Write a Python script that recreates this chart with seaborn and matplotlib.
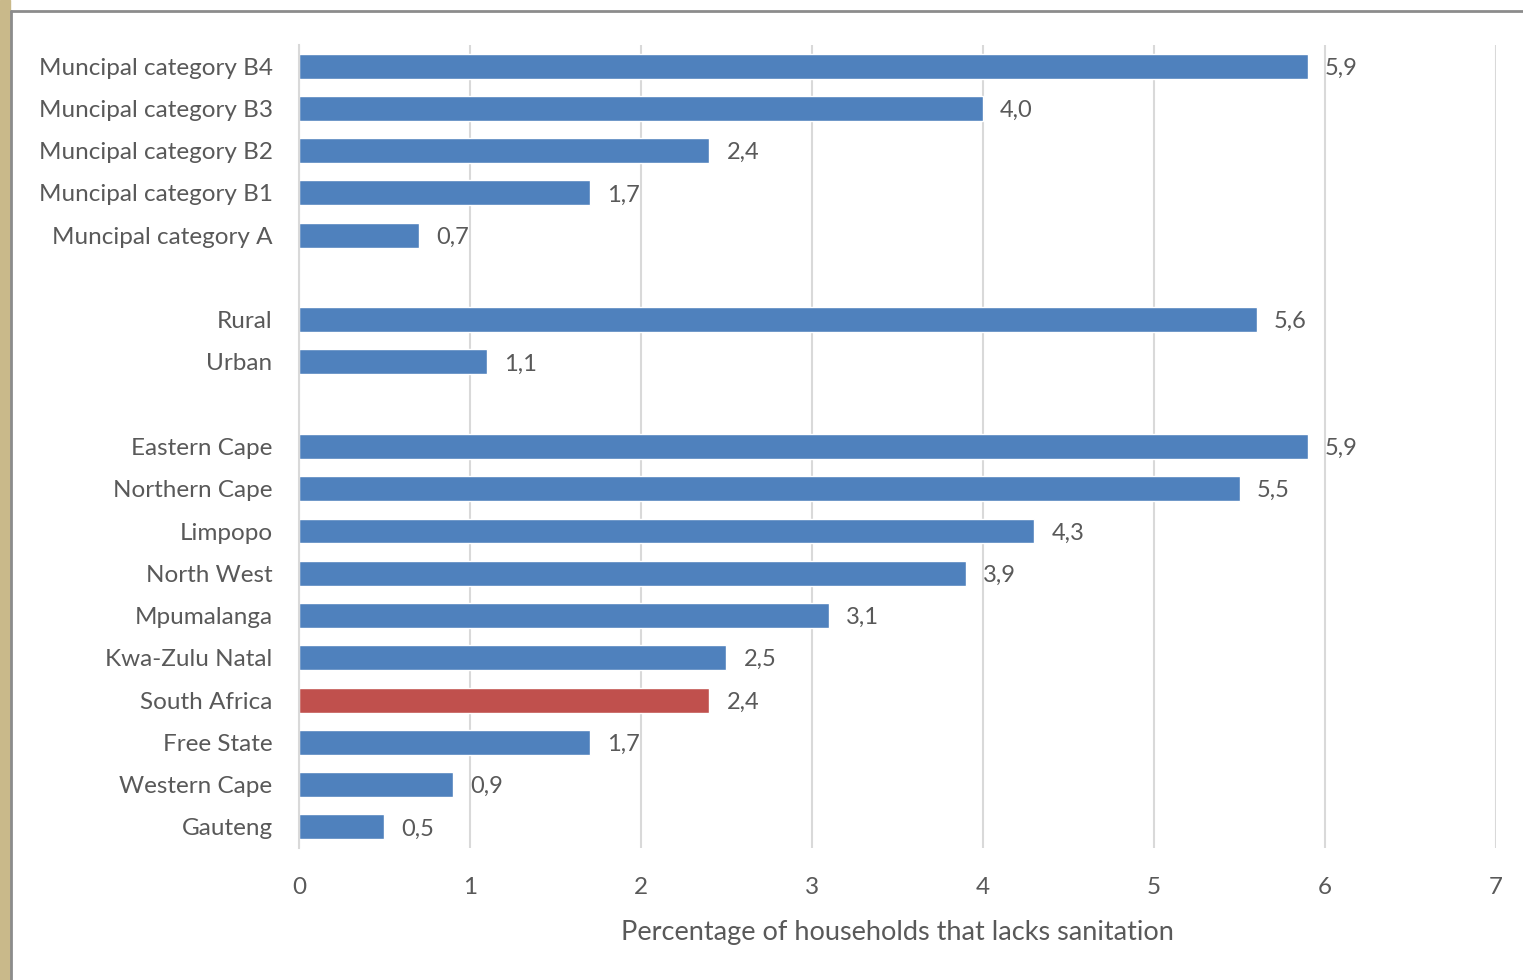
import pandas as pd
import matplotlib.pyplot as plt
import seaborn as sns
from matplotlib.patches import Rectangle
from matplotlib.lines import Line2D

# Datos
municipal = ['Muncipal category B4', 'Muncipal category B3', 'Muncipal category B2',
             'Muncipal category B1', 'Muncipal category A']
municipal_vals = [5.9, 4.0, 2.4, 1.7, 0.7]

settlement = ['Rural', 'Urban']
settlement_vals = [5.6, 1.1]

provinces = ['Eastern Cape', 'Northern Cape', 'Limpopo', 'North West', 'Mpumalanga',
             'Kwa-Zulu Natal', 'South Africa', 'Free State', 'Western Cape', 'Gauteng']
province_vals = [5.9, 5.5, 4.3, 3.9, 3.1, 2.5, 2.4, 1.7, 0.9, 0.5]

highlight = 'South Africa'

df = pd.DataFrame({
    'Grupo': municipal + settlement + provinces,
    'Valor': municipal_vals + settlement_vals + province_vals,
})
# huecos entre bloques
orden = municipal + [' '] + settlement + ['  '] + provinces

blue = '#4F81BD'
red = '#C0504D'
gris = '#595959'
colores = {g: (red if g == highlight else blue) for g in df['Grupo']}

sns.set_style('white')
plt.rcParams['font.family'] = ['Lato', 'DejaVu Sans']

fig = plt.figure(figsize=(15.23, 9.8), dpi=100)
ax = fig.add_axes([0.1963, 0.1347, 0.9823 - 0.1963, 0.9541 - 0.1347])

sns.barplot(data=df, x='Valor', y='Grupo', hue='Grupo', palette=colores, order=orden,
            orient='h', width=0.59, legend=False, ax=ax, saturation=1)

ax.set_xlim(0, 7)
ax.set_xticks(range(0, 8))
ax.grid(axis='x', color='#D9D9D9', linewidth=1.5)
ax.set_axisbelow(True)
for s in ['top', 'right', 'bottom']:
    ax.spines[s].set_visible(False)
ax.spines['left'].set_color('#D9D9D9')
ax.spines['left'].set_linewidth(1.5)

ax.tick_params(axis='both', length=0, labelsize=17.5, colors=gris)
ax.tick_params(axis='x', pad=21)
ax.tick_params(axis='y', pad=19)
ax.set_ylabel('')
ax.set_xlabel('Percentage of households that lacks sanitation', fontsize=19.5,
              color=gris, labelpad=16)

# etiquetas de datos
for cont in ax.containers:
    for bar in cont:
        w = bar.get_width()
        if w != w or w == 0:
            continue
        ax.text(w + 0.1, bar.get_y() + bar.get_height() / 2,
                f'{w:.1f}'.replace('.', ','), va='center_baseline', ha='left',
                fontsize=17, color=gris)

# marco de la captura
fig.patches.append(Rectangle((0, 0), 10 / 1523, 1, transform=fig.transFigure,
                             color='#C9B98A', zorder=0))
fig.lines.append(Line2D([11 / 1523, 11 / 1523], [0, 1 - 11 / 980], transform=fig.transFigure,
                        color='#8C8C8C', linewidth=2))
fig.lines.append(Line2D([11 / 1523, 1], [1 - 11 / 980, 1 - 11 / 980], transform=fig.transFigure,
                        color='#8C8C8C', linewidth=2))

fig.savefig('out.png', dpi=100)
